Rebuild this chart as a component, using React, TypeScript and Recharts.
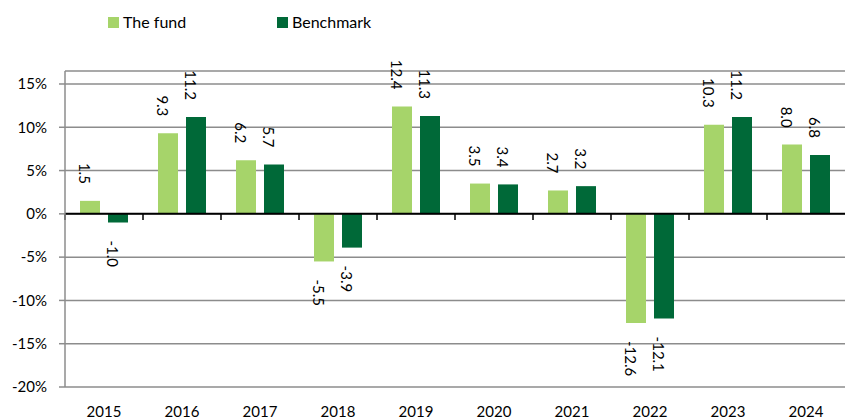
import React from 'react';
import { BarChart, Bar, XAxis, YAxis, CartesianGrid, ReferenceLine, LabelList } from 'recharts';

const years = ['2015', '2016', '2017', '2018', '2019', '2020', '2021', '2022', '2023', '2024'];
const fundValues = [1.5, 9.3, 6.2, -5.5, 12.4, 3.5, 2.7, -12.6, 10.3, 8.0];
const benchmarkValues = [-1.0, 11.2, 5.7, -3.9, 11.3, 3.4, 3.2, -12.1, 11.2, 6.8];
const yTicks = [-20, -15, -10, -5, 0, 5, 10, 15];
const seriesNames = ['The fund', 'Benchmark'];

const FUND_COLOR = '#A6D46A';
const BENCH_COLOR = '#006938';
const FONT = 'Lato, "Open Sans", sans-serif';

const data = years.map((year, i) => ({ year, fund: fundValues[i], benchmark: benchmarkValues[i] }));

const RotLabel = (props: any) => {
  const { x, y, width, height, value } = props;
  const v = Number(value);
  const top = Math.min(y, y + height);
  const bottom = Math.max(y, y + height);
  const cx = x + width / 2 - 5;
  if (v >= 0) {
    const ay = top - 17;
    return (
      <text x={cx} y={ay} transform={`rotate(90 ${cx} ${ay})`} textAnchor="end" dominantBaseline="central"
        fontFamily={FONT} fontSize={15} fill="#000">{v.toFixed(1)}</text>
    );
  }
  const ay = bottom + 18;
  return (
    <text x={cx} y={ay} transform={`rotate(90 ${cx} ${ay})`} textAnchor="start" dominantBaseline="central"
      fontFamily={FONT} fontSize={15} fill="#000">{v.toFixed(1)}</text>
  );
};

export default function App() {
  return (
    <div style={{ position: 'absolute', left: 0, top: 0, width: 845, height: 419, background: '#fff' }}>
      <div style={{ position: 'absolute', left: 0, top: 0, width: 845, height: 40, fontFamily: FONT, fontSize: 16, color: '#000' }}>
        <div style={{ position: 'absolute', left: 108, top: 17, width: 11, height: 11, background: FUND_COLOR }} />
        <div style={{ position: 'absolute', left: 123, top: 12, lineHeight: '20px' }}>{seriesNames[0]}</div>
        <div style={{ position: 'absolute', left: 277, top: 17, width: 11, height: 11, background: BENCH_COLOR }} />
        <div style={{ position: 'absolute', left: 292, top: 12, lineHeight: '20px' }}>{seriesNames[1]}</div>
      </div>
      <BarChart width={845} height={419} data={data} margin={{ top: 71, right: 0, bottom: 0, left: 0 }}
        barSize={20} barGap={8}>
        <CartesianGrid vertical={false} stroke="#8c8c8c" strokeWidth={1.5} />
        <XAxis dataKey="year" axisLine={false} tickLine={false} height={32} tickMargin={13}
          tick={{ fontFamily: FONT, fontSize: 15, fill: '#000' }} interval={0} />
        <YAxis width={65} domain={[-20, 16.5]} ticks={yTicks} allowDataOverflow
          tickFormatter={(v: number) => `${v}%`} stroke="#8c8c8c" strokeWidth={1.5}
          tickSize={6} tickMargin={12} tick={{ fontFamily: FONT, fontSize: 15, fill: '#000' }} />
        <Bar dataKey="fund" name={seriesNames[0]} fill={FUND_COLOR} isAnimationActive={false}>
          <LabelList dataKey="fund" content={RotLabel} />
        </Bar>
        <Bar dataKey="benchmark" name={seriesNames[1]} fill={BENCH_COLOR} isAnimationActive={false}>
          <LabelList dataKey="benchmark" content={RotLabel} />
        </Bar>
        <ReferenceLine y={0} stroke="#000" strokeWidth={2} />
        {years.map((yr) => (
          <ReferenceLine key={yr} segment={[{ x: yr, y: 0 }, { x: yr, y: -0.7 }]} position="start"
            stroke="#000" strokeWidth={1.5} />
        ))}
      </BarChart>
    </div>
  );
}
